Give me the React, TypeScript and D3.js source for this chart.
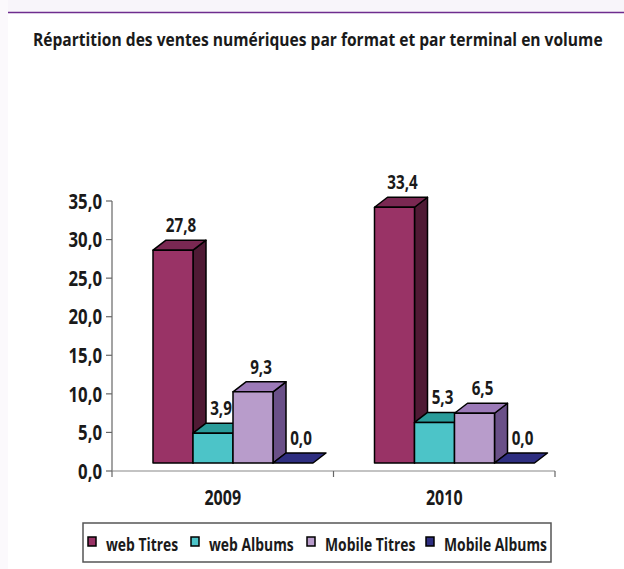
import React from "react";
import * as d3 from "d3";

const title = "Répartition des ventes numériques par format et par terminal en volume";
const categories = ["2009", "2010"];
const seriesNames = ["web Titres", "web Albums", "Mobile Titres", "Mobile Albums"];
const values2009 = [27.8, 3.9, 9.3, 0.0];
const values2010 = [33.4, 5.3, 6.5, 0.0];
const yTicks = [0, 5, 10, 15, 20, 25, 30, 35];

const frontColors = ["#993366", "#4cc4c8", "#b89ccb", "#2e2e80"];
const topColors = ["#7a2852", "#2a9c9a", "#9c7ab8", "#2e2e80"];
const sideColors = ["#4f1a34", "#227a78", "#6a5088", "#1e1e5a"];

const FONT = "'Open Sans', 'Noto Sans', sans-serif";
const SX = 0.8;

const W = 624;
const H = 569;
const DX = 13;
const DY = -10;

const fmt = (v: number) => v.toFixed(1).replace(".", ",");

function measure(text: string, size: number): number {
  try {
    const c = document.createElement("canvas");
    const ctx = c.getContext("2d");
    if (!ctx) return text.length * size * 0.55;
    ctx.font = `bold ${size}px 'Open Sans', 'Noto Sans', sans-serif`;
    return ctx.measureText(text).width;
  } catch (e) {
    return text.length * size * 0.55;
  }
}

function CText(props: {
  x: number;
  y: number;
  size: number;
  anchor?: string;
  dy?: string;
  sx?: number;
  children: React.ReactNode;
}) {
  const { x, y, size, anchor = "start", dy, children, sx = SX } = props;
  return (
    <text
      transform={`translate(${x},${y}) scale(${sx},1)`}
      dy={dy}
      textAnchor={anchor}
      fontSize={size}
      fontWeight="bold"
      fontFamily={FONT}
      fill="#1a1a1a"
    >
      {children}
    </text>
  );
}

export default function App() {
  const data = [values2009, values2010];
  const x0 = d3.scaleBand<string>().domain(categories).range([112, 555]).paddingInner(0).paddingOuter(0);
  const x1 = d3.scaleBand<string>().domain(seriesNames).range([41, 201]).padding(0);
  const y = d3.scaleLinear().domain([0, 35]).range([471, 201]);
  const yFront = d3.scaleLinear().domain([0, 35]).range([463, 195]);

  const titleSize = 18.5;
  const titleSX = Math.min(1, 570 / measure(title, titleSize));

  const bars: React.ReactNode[] = [];
  const labels: React.ReactNode[] = [];
  categories.forEach((cat, ci) => {
    seriesNames.forEach((s, si) => {
      const v = data[ci][si];
      const xl = (x0(cat) as number) + (x1(s) as number);
      const w = x1.bandwidth();
      const xr = xl + w;
      const yt = yFront(v);
      const yb = yFront(0);
      const key = `${ci}-${si}`;
      const side = `M${xr},${yb} L${xr + DX},${yb + DY} L${xr + DX},${yt + DY} L${xr},${yt} Z`;
      const top = `M${xl},${yt} L${xl + DX},${yt + DY} L${xr + DX},${yt + DY} L${xr},${yt} Z`;
      bars.push(
        <g key={key} stroke="#000" strokeWidth={1.5} strokeLinejoin="round">
          {v > 0 && <path d={side} fill={sideColors[si]} />}
          <path d={top} fill={topColors[si]} />
          {v > 0 && <rect x={xl} y={yt} width={w} height={yb - yt} fill={frontColors[si]} />}
        </g>
      );
      labels.push(
        <CText key={"l" + key} x={xl + w / 2 + 8} y={yt + DY - 8} size={19.5} sx={0.78} anchor="middle">
          {fmt(v)}
        </CText>
      );
    });
  });

  const legendX = [88, 191, 307, 426];

  return (
    <svg width={W} height={H} style={{ position: "absolute", left: 0, top: 0, background: "#fff" }}>
      <defs>
        <linearGradient id="lb" x1="0" y1="0" x2="0" y2="1">
          <stop offset="0" stopColor="#7a3a9a" />
          <stop offset="1" stopColor="#b898d4" />
        </linearGradient>
      </defs>
      <rect x={0} y={0} width={W} height={12} fill="#f8f5fa" />
      <rect x={0} y={0} width={8} height={H} fill="#fbf9fc" />
      <line x1={8} x2={W} y1={12.5} y2={12.5} stroke="#6e2c8e" strokeWidth={1.5} />
      <line x1={9.5} x2={9.5} y1={12} y2={H} stroke="url(#lb)" strokeWidth={2} />

      <CText x={33} y={46} size={titleSize} sx={titleSX}>
        {title}
      </CText>

      {/* y axis */}
      <line x1={112} x2={112} y1={y(35)} y2={y(0)} stroke="#666" strokeWidth={1.2} />
      {yTicks.map((t) => (
        <g key={t}>
          <line x1={106} x2={112} y1={y(t)} y2={y(t)} stroke="#666" strokeWidth={1.2} />
          <CText x={102} y={y(t)} dy="0.36em" size={21.5} sx={0.78} anchor="end">
            {fmt(t)}
          </CText>
        </g>
      ))}

      {/* x axis */}
      <line x1={112} x2={555} y1={y(0)} y2={y(0)} stroke="#888" strokeWidth={1.2} />
      {[...categories.map((c) => x0(c) as number), 555].map((xv, i) => (
        <line key={i} x1={xv} x2={xv} y1={y(0)} y2={y(0) + 6} stroke="#666" strokeWidth={1.2} />
      ))}
      {categories.map((c) => (
        <CText key={c} x={(x0(c) as number) + x0.bandwidth() / 2} y={505} size={20.5} sx={0.78} anchor="middle">
          {c}
        </CText>
      ))}

      {bars}
      {labels}

      {/* legend */}
      <rect x={83} y={523} width={468} height={39} fill="#fff" stroke="#555" strokeWidth={1.5} />
      {seriesNames.map((s, i) => (
        <g key={s}>
          <rect x={legendX[i]} y={537} width={8} height={9} fill={frontColors[i]} stroke="#000" strokeWidth={1.5} />
          <CText x={legendX[i] + 18} y={550.5} size={18.5} sx={0.75}>
            {s}
          </CText>
        </g>
      ))}
    </svg>
  );
}
